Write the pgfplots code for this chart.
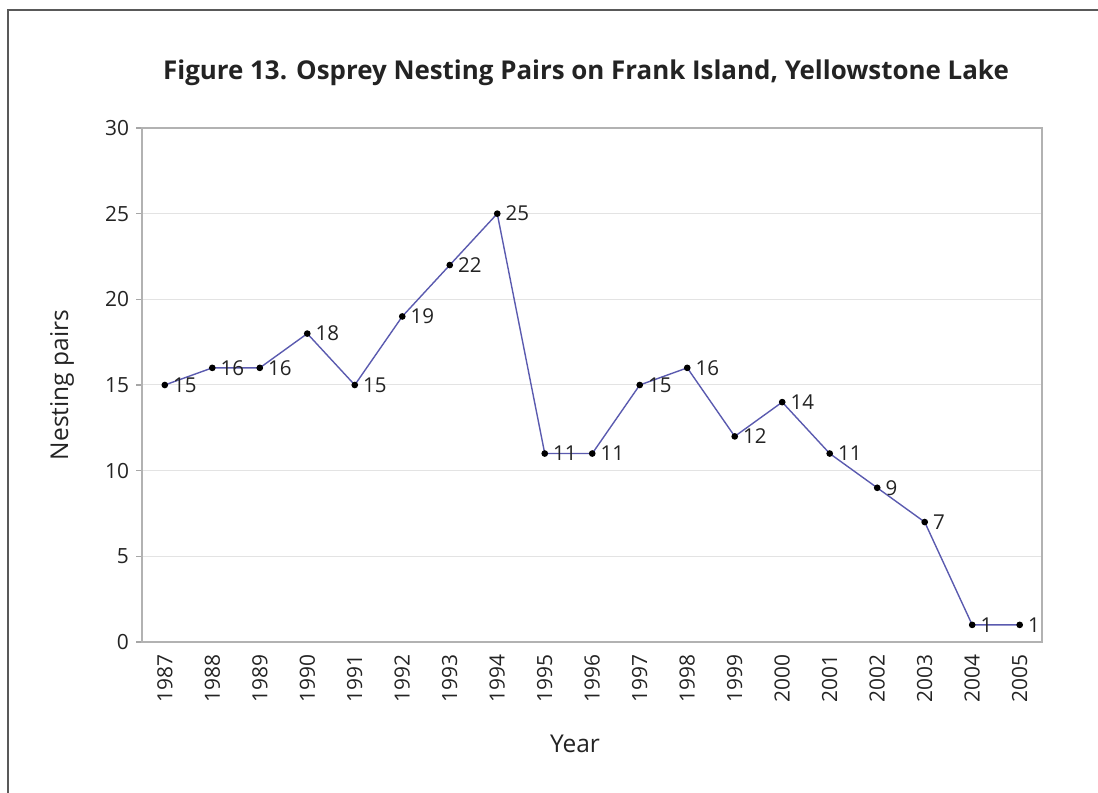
\documentclass[border=0pt]{standalone}
\usepackage{pgfplots}
\pgfplotsset{compat=1.18}
\usepackage{fontspec}
\setmainfont{Open Sans}
\definecolor{linec}{RGB}{90,90,175}
\definecolor{txt}{RGB}{35,35,35}
\begin{document}
\begin{tikzpicture}
\useasboundingbox (0,0) rectangle (549bp,396.5bp);
\draw[line width=1.3bp, black!65] (4bp,0) -- (4bp,391.5bp) -- (549bp,391.5bp);
\node[font=\bfseries\fontsize{13}{15}\selectfont, text=txt] at (293bp,360bp) {Figure 13. Osprey Nesting Pairs on Frank Island, Yellowstone Lake};
\node[font=\fontsize{12.3}{14}\selectfont, text=txt] at (287.5bp,24.5bp) {Year};
\node[font=\fontsize{12.3}{14}\selectfont, text=txt, rotate=90] at (31bp,204bp) {Nesting pairs};
\begin{axis}[
  at={(71bp,75.5bp)}, anchor=south west,
  width=450bp, height=257bp, scale only axis,
  xmin=-0.48, xmax=18.47, ymin=0, ymax=30,
  xtick={0,...,18},
  xticklabels={1987,1988,1989,1990,1991,1992,1993,1994,1995,1996,1997,1998,1999,2000,2001,2002,2003,2004,2005},
  x tick label style={rotate=90, anchor=east, font=\fontsize{10.5}{12}\selectfont, text=txt},
  ytick={0,5,...,30},
  y tick label style={font=\fontsize{10.5}{12}\selectfont, text=txt},
  /pgf/number format/assume math mode=true,
  tick align=outside, ytick pos=left, xtick style={draw=none},
  ytick style={draw=gray!70, line width=0.6pt},
  major tick length=3bp,
  axis line style={draw=gray!60, line width=0.7pt},
  ymajorgrids, grid style={draw=gray!22, line width=0.5pt},
  clip=false,
]
\addplot[color=linec, line width=0.7pt, mark=*, mark size=1.3pt, mark options={fill=black, draw=black},
  nodes near coords, point meta=explicit symbolic,
  every node near coord/.append style={anchor=west, xshift=0.5bp, font=\fontsize{10.3}{12}\selectfont, text=txt}]
coordinates {
(0,15) [15] (1,16) [16] (2,16) [16] (3,18) [18] (4,15) [15] (5,19) [19] (6,22) [22] (7,25) [25] (8,11) [11] (9,11) [11]
(10,15) [15] (11,16) [16] (12,12) [12] (13,14) [14] (14,11) [11] (15,9) [9] (16,7) [7] (17,1) [1] (18,1) [1]
};
\end{axis}
\end{tikzpicture}
\end{document}
